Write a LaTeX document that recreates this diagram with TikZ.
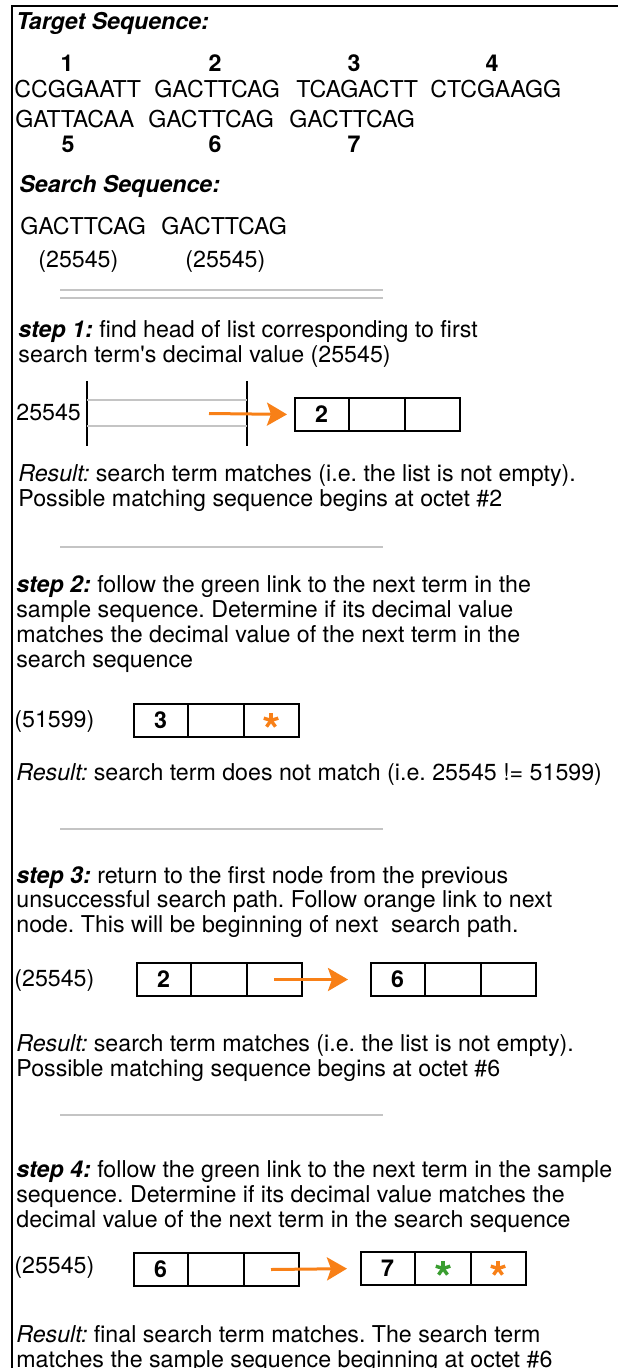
\documentclass[tikz,border=0pt]{standalone}
\usepackage{fontspec}
\setmainfont{TeX Gyre Heros}
\usetikzlibrary{arrows.meta}

\definecolor{linkorange}{RGB}{248,128,23}
\definecolor{linkgreen}{RGB}{58,158,48}
\definecolor{rulegray}{RGB}{196,196,196}

\newcommand\bodyfont{\fontsize{11.6}{12.5}\selectfont\frenchspacing}

\tikzset{
  txt/.style={anchor=base west, inner sep=0pt, font=\bodyfont},
  octetno/.style={anchor=base, inner sep=0pt, font=\bodyfont\bfseries},
  head/.style={txt, font=\bodyfont\bfseries\itshape},
  divider/.style={rulegray, line width=0.8pt},
  frame/.style={line width=1.3pt},
  listbox/.style={draw, line width=1pt, anchor=north west,
    minimum width=82.5pt, minimum height=16.5pt, inner sep=0pt},
  celltext/.style={inner sep=0pt, font=\bodyfont\bfseries},
  link/.style={linkorange, line width=1.5pt,
    -{Stealth[length=10pt, width=11.5pt, inset=2pt]}},
}

% a list node of three cells: name, left x, top y
\newcommand\listnode[3]{%
  \node[listbox] (#1) at (#2,#3) {};
  \draw[line width=1pt]
    ([xshift=27.5pt]#1.north west) -- ([xshift=27.5pt]#1.south west)
    ([xshift=55.5pt]#1.north west) -- ([xshift=55.5pt]#1.south west);
  \coordinate (#1-1) at ([xshift=13.75pt]#1.west);
  \coordinate (#1-2) at ([xshift=41.5pt]#1.west);
  \coordinate (#1-3) at ([xshift=69pt]#1.west);
}
% five-armed link marker: position, colour
\newcommand\linkmark[2]{%
  \foreach \a in {90,162,234,306,18}
    \draw[#2, line width=1.7pt] (#1) -- ++(\a:3.8pt);
}

\begin{document}
\begin{tikzpicture}[x=0.5pt,y=-0.5pt]
\useasboundingbox (0,0) rectangle (617,1368);
\fill[white] (0,0) rectangle (617,1368);

% outer frame (top and left)
\draw[frame] (620,6) -- (12,6) -- (12,1372);

% target sequence
\node[head] (tgt) at (16,30) {Target Sequence:};
\node[octetno] (o1) at (67,72) {1};
\node[octetno] (o2) at (215,72) {2};
\node[octetno] (o3) at (354,72) {3};
\node[octetno] (o4) at (492,72) {4};
\node[txt] (w1) at (14,98) {CCGGAATT};
\node[txt] (w2) at (154,98) {GACTTCAG};
\node[txt] (w3) at (296,98) {TCAGACTT};
\node[txt] (w4) at (430,98) {CTCGAAGG};
\node[txt] (w5) at (15,128) {GATTACAA};
\node[txt] (w6) at (148,128) {GACTTCAG};
\node[txt] (w7) at (289,128) {GACTTCAG};
\node[octetno] (o5) at (68,153) {5};
\node[octetno] (o6) at (215,153) {6};
\node[octetno] (o7) at (354,153) {7};

% search sequence
\node[head] (srch) at (19,193) {Search Sequence:};
\node[txt] (q1) at (20,235) {GACTTCAG};
\node[txt] (q2) at (161,235) {GACTTCAG};
\node[txt] (d1) at (38,268) {(25545)};
\node[txt] (d2) at (185,268) {(25545)};
\draw[divider] (60,290) -- (383,290) (60,298) -- (383,298);

% step 1
\node[txt] (s1a) at (18,338) {\textbf{\textit{step 1:}} find head of list corresponding to first};
\node[txt] (s1b) at (18,363) {search term\textquotesingle s decimal value (25545)};
\node[txt] (hkey) at (16,421) {25545};
\draw[line width=1pt] (87,381) -- (87,446) (247,381) -- (247,446);
\draw[divider] (87,400) -- (247,400) (87,426) -- (247,426);
\listnode{n2}{294}{397}
\node[celltext] (n2a) at (n2-1) {2};
\coordinate (h1) at (209,413.5);
\draw[link, shorten >=3.5pt] (h1) -- (n2.west);
\node[txt] (r1a) at (18,482) {\textit{Result:} search term matches (i.e. the list is not empty).};
\node[txt] (r1b) at (18,507) {Possible matching sequence begins at octet \#2};
\draw[divider] (60,547) -- (383,547);

% step 2
\node[txt] (s2a) at (16,592) {\textbf{\textit{step 2:}} follow the green link to the next term in the};
\node[txt] (s2b) at (16,617) {sample sequence. Determine if its decimal value};
\node[txt] (s2c) at (16,642) {matches the decimal value of the next term in the};
\node[txt] (s2d) at (16,667) {search sequence};
\node[txt] (k2) at (14,727) {(51599)};
\listnode{n3}{133}{703}
\node[celltext] (n3a) at (n3-1) {3};
\linkmark{n3-3}{linkorange}
\node[txt] (r2a) at (16,780) {\textit{Result:} search term does not match (i.e. 25545 != 51599)};
\draw[divider] (60,829) -- (383,829);

% step 3
\node[txt] (s3a) at (16,883) {\textbf{\textit{step 3:}} return to the first node from the previous};
\node[txt] (s3b) at (16,907) {unsuccessful search path. Follow orange link to next};
\node[txt] (s3c) at (16,932) {node. This will be beginning of next \ search path.};
\node[txt] (k3) at (14,986) {(25545)};
\listnode{m2}{136}{962}
\node[celltext] (m2a) at (m2-1) {2};
\listnode{m6}{370}{962}
\node[celltext] (m6a) at (m6-1) {6};
\draw[link, shorten >=11pt] (m2-3) -- (m6.west);
\node[txt] (r3a) at (16,1051) {\textit{Result:} search term matches (i.e. the list is not empty).};
\node[txt] (r3b) at (16,1076) {Possible matching sequence begins at octet \#6};
\draw[divider] (60,1115) -- (383,1115);

% step 4
\node[txt] (s4a) at (16,1177) {\textbf{\textit{step 4:}} follow the green link to the next term in the sample};
\node[txt] (s4b) at (16,1202) {sequence. Determine if its decimal value matches the};
\node[txt] (s4c) at (16,1227) {decimal value of the next term in the search sequence};
\node[txt] (k4) at (14,1273) {(25545)};
\listnode{p6}{133}{1252}
\node[celltext] (p6a) at (p6-1) {6};
\listnode{p7}{360}{1251}
\node[celltext] (p7a) at (p7-1) {7};
\linkmark{p7-2}{linkgreen}
\linkmark{p7-3}{linkorange}
\draw[link, shorten >=6.5pt] (p6-3) -- (p7.west);
\node[txt] (r4a) at (16,1342) {\textit{Result:} final search term matches. The search term};
\node[txt] (r4b) at (16,1367) {matches the sample sequence beginning at octet \#6};
\end{tikzpicture}
\end{document}
